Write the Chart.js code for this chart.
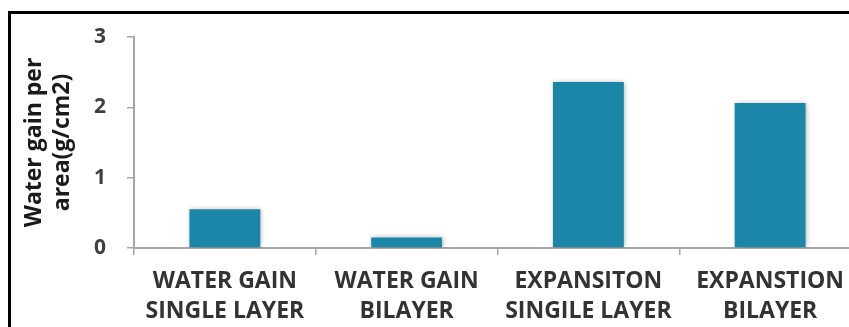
<!DOCTYPE html>
<html>
<head>
<meta charset="utf-8">
<script src="https://cdn.jsdelivr.net/npm/chart.js@4"></script>
<style>
  html, body { margin: 0; padding: 0; background: #fff; overflow: hidden; width: 849px; height: 327px; }
  #frame { position: absolute; left: 8px; top: 11px; width: 900px; height: 400px;
           border-left: 3px solid #000; border-top: 3px solid #000; }
  #chart { position: absolute; left: 0; top: 0; }
</style>
</head>
<body>
<div id="frame"></div>
<canvas id="chart" width="900" height="327"></canvas>
<script>
// categories (two-line tick labels)
const categories = [
  ['WATER GAIN', 'SINGLE LAYER'],
  ['WATER GAIN', 'BILAYER'],
  ['EXPANSITON', 'SINGILE LAYER'],
  ['EXPANSTION', 'BILAYER']
];
// water gain per area, g/cm2
const gainValues = [0.55, 0.15, 2.36, 2.06];
const yTicks = [0, 1, 2, 3];
const yTitle = ['Water gain per', 'area(g/cm2)'];

const axisGrey = '#a6a6a6';

// soft grey halo round the bars
const barShadow = {
  id: 'barShadow',
  beforeDatasetsDraw(chart) {
    const ctx = chart.ctx;
    ctx.save();
    ctx.shadowColor = 'rgba(0,0,0,0.3)';
    ctx.shadowBlur = 5;
    ctx.shadowOffsetX = 1;
    ctx.shadowOffsetY = 0;
  },
  afterDatasetsDraw(chart) {
    chart.ctx.restore();
  }
};

new Chart(document.getElementById('chart'), {
  type: 'bar',
  data: {
    labels: categories,
    datasets: [{
      data: gainValues,
      backgroundColor: '#1b86a7',
      borderWidth: 0,
      barPercentage: 0.39,
      categoryPercentage: 1
    }]
  },
  plugins: [barShadow],
  options: {
    responsive: false,
    animation: false,
    layout: { padding: { top: 37, right: 39, left: 21, bottom: 0 } },
    plugins: { legend: { display: false }, tooltip: { enabled: false } },
    scales: {
      x: {
        offset: true,
        grid: { offset: true, drawOnChartArea: false, drawTicks: true, tickLength: 7, color: axisGrey, lineWidth: 1.5 },
        border: { display: true, color: axisGrey, width: 2 },
        ticks: {
          color: '#333',
          padding: 12,
          maxRotation: 0,
          autoSkip: false,
          font: { family: 'Open Sans', size: 23, weight: 'bold', lineHeight: 1.28 }
        },
        afterFit(scale) { scale.height = 79; }
      },
      y: {
        min: 0,
        max: 3,
        afterBuildTicks(scale) { scale.ticks = yTicks.map(v => ({ value: v })); },
        grid: { drawOnChartArea: false, drawTicks: true, tickLength: 7, color: axisGrey, lineWidth: 1.5 },
        border: { display: true, color: axisGrey, width: 2 },
        ticks: {
          color: '#404040',
          padding: 21,
          font: { family: 'Open Sans', size: 21, weight: 'bold' }
        },
        title: {
          display: true,
          text: yTitle,
          color: '#1a1a1a',
          padding: { top: 0, bottom: 0 },
          font: { family: 'Open Sans', size: 23, weight: 'bold', lineHeight: 1.2 }
        },
        afterFit(scale) { scale.width = 113; }
      }
    }
  }
});
</script>
</body>
</html>
